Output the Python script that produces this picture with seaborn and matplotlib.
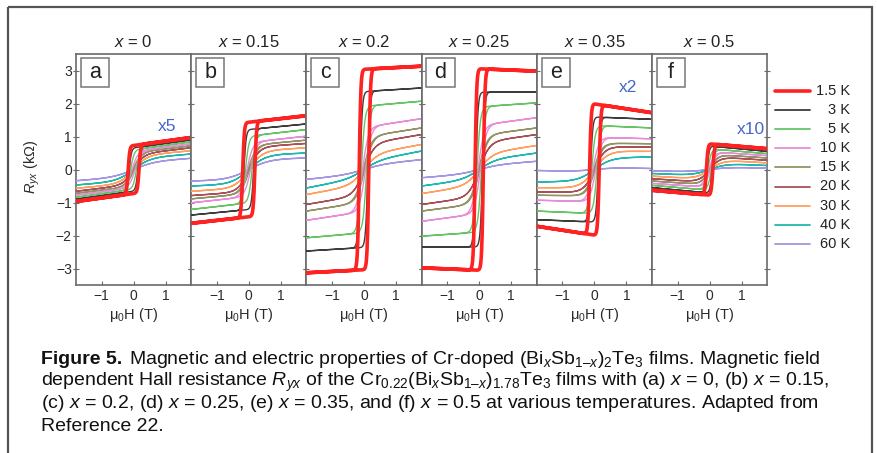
import numpy as np
import pandas as pd
import matplotlib
matplotlib.use("Agg")
import matplotlib.pyplot as plt
from matplotlib import font_manager
from matplotlib.patches import Rectangle
import seaborn as sns

# --- данные ---
temps = ["1.5 K", "3 K", "5 K", "10 K", "15 K", "20 K", "30 K", "40 K", "60 K"]
colors = ["#ff2222", "#3c3c3c", "#66c466", "#e68cd8", "#939366",
          "#a8505a", "#ffa060", "#22b8b0", "#a496e2"]

panel_letters = ["a", "b", "c", "d", "e", "f"]
panel_titles = ["0", "0.15", "0.2", "0.25", "0.35", "0.5"]
scale_notes = ["x5", None, None, None, "x2", "x10"]
note_pos = [(1.05, 1.3), None, None, None, (1.05, 2.5), (1.3, 1.2)]

# R_yx (kOhm) на верхней ветви при 0.6 T и на краю 1.8 T
a_knee = [0.81, 0.74, 0.68, 0.62, 0.57, 0.50, 0.42, 0.32, 0.20]
a_end = [0.97, 0.90, 0.84, 0.78, 0.72, 0.66, 0.57, 0.47, 0.34]
b_knee = [1.50, 1.27, 1.08, 0.88, 0.77, 0.68, 0.53, 0.38, 0.24]
b_end = [1.63, 1.38, 1.21, 1.01, 0.89, 0.79, 0.66, 0.50, 0.35]
c_knee = [3.07, 2.40, 1.97, 1.36, 1.06, 0.83, 0.50, 0.30, 0.15]
c_end = [3.13, 2.47, 2.07, 1.54, 1.26, 1.06, 0.76, 0.56, 0.30]
d_knee = [3.03, 2.35, 1.94, 1.41, 1.09, 0.86, 0.50, 0.30, 0.13]
d_end = [2.98, 2.35, 2.02, 1.57, 1.26, 1.06, 0.73, 0.50, 0.25]
e_knee = [1.90, 1.57, 1.31, 0.96, 0.78, 0.66, 0.50, 0.30, 0.04]
e_end = [1.72, 1.52, 1.26, 0.93, 0.78, 0.68, 0.55, 0.38, 0.03]
f_knee = [0.73, 0.66, 0.58, 0.50, 0.42, 0.34, 0.24, 0.14, 0.05]
f_end = [0.63, 0.55, 0.48, 0.42, 0.35, 0.28, 0.20, 0.12, 0.04]

knees = [a_knee, b_knee, c_knee, d_knee, e_knee, f_knee]
ends = [a_end, b_end, c_end, d_end, e_end, f_end]

# коэрцитивное поле (T) для 1.5 K в каждой панели и доли для других температур
hc_red = [0.17, 0.19, 0.15, 0.13, 0.15, 0.10]
hc_ratio = [1.0, 0.8, 0.55, 0.3, 0.15, 0.0, 0.0, 0.0, 0.0]
# ширина перехода (T)
widths = [0.05, 0.07, 0.11, 0.18, 0.25, 0.32, 0.42, 0.52, 0.65]

caption_lines = [
    "Magnetic and electric properties of Cr-doped (Bi$\\mathregular{_{\\it{x}}}$Sb$\\mathregular{_{1\u2013\\it{x}}}$)$\\mathregular{_2}$Te$\\mathregular{_3}$ films. Magnetic field",
    "dependent Hall resistance $\\it{R}\\mathregular{_{\\it{yx}}}$ of the Cr$\\mathregular{_{0.22}}$(Bi$\\mathregular{_{\\it{x}}}$Sb$\\mathregular{_{1\u2013\\it{x}}}$)$\\mathregular{_{1.78}}$Te$\\mathregular{_3}$ films with (a) $\\it{x}$ = 0, (b) $\\it{x}$ = 0.15,",
    "(c) $\\it{x}$ = 0.2, (d) $\\it{x}$ = 0.25, (e) $\\it{x}$ = 0.35, and (f) $\\it{x}$ = 0.5 at various temperatures. Adapted from",
    "Reference 22.",
]


def branch_frames(knee, end, hc_max):
    """Строим петли гистерезиса по считанным значениям"""
    H = np.linspace(-1.8, 1.8, 901)
    rows = []
    for i in range(len(temps)):
        hc = hc_max * hc_ratio[i]
        w = widths[i]
        t1 = np.tanh((0.6 - hc) / w)
        t2 = np.tanh((1.8 - hc) / w)
        s = (knee[i] * t2 - end[i] * t1) / (0.6 * t2 - 1.8 * t1)
        A = (knee[i] - 0.6 * s) / t1
        up = s * H + A * np.tanh((H - hc) / w)
        down = s * H[::-1] + A * np.tanh((H[::-1] + hc) / w)
        rows.append(pd.DataFrame({"H": np.concatenate([H, H[::-1]]),
                                  "R": np.concatenate([up, down]),
                                  "T": temps[i]}))
    return rows


sns.set_style("ticks")
names = {f.name for f in font_manager.fontManager.ttflist}
chart_font = "Liberation Sans" if "Liberation Sans" in names else "DejaVu Sans"
cap_font = "Liberation Sans Narrow" if "Liberation Sans Narrow" in names else chart_font
plt.rcParams["font.family"] = [chart_font, "DejaVu Sans"]
plt.rcParams["mathtext.fontset"] = "custom"
plt.rcParams["mathtext.rm"] = chart_font
plt.rcParams["mathtext.it"] = chart_font + ":italic"
plt.rcParams["mathtext.bf"] = chart_font + ":bold"

W, Hpx = 878, 453
fig = plt.figure(figsize=(W / 100, Hpx / 100), dpi=100)

ax_left, ax_w = 76, 115.2
ax_top, ax_bot = 54, 285
spine_c = "#6a6a6a"
text_c = "#2a2a2a"

for p in range(6):
    x0 = ax_left + p * ax_w
    ax = fig.add_axes([x0 / W, (Hpx - ax_bot) / Hpx, ax_w / W, (ax_bot - ax_top) / Hpx])
    frames = branch_frames(knees[p], ends[p], hc_red[p])
    for i in reversed(range(len(temps))):
        sns.lineplot(data=frames[i], x="H", y="R", sort=False, estimator=None,
                     color=colors[i], lw=2.6 if i == 0 else 1.0, ax=ax,
                     zorder=5 if i == 0 else 3)
    ax.set_xlim(-1.8, 1.8)
    ax.set_ylim(-3.5, 3.5)
    ax.set_xticks([-1, 0, 1])
    ax.set_xticklabels(["\u22121", "0", "1"])
    ax.set_yticks([-3, -2, -1, 0, 1, 2, 3])
    if p == 0:
        ax.set_yticklabels(["\u22123", "\u22122", "\u22121", "0", "1", "2", "3"])
        ax.set_ylabel("$\\it{R}\\mathregular{_{\\it{yx}}}$ (k\u03a9)", fontsize=10.5, color=text_c)
        ax.yaxis.set_label_coords((42 - x0) / ax_w, 0.51)
    else:
        ax.set_yticklabels([])
        ax.set_ylabel("")
    ax.set_xlabel(r"$\mathregular{\mu_0}$H (T)", fontsize=10.5, color=text_c, labelpad=2)
    ax.tick_params(axis="y", direction="inout", length=4, width=0.8, colors=spine_c,
                   labelcolor=text_c, labelsize=10, right=True, pad=1)
    ax.tick_params(axis="x", direction="in", length=3, width=0.8, colors=spine_c,
                   labelcolor=text_c, labelsize=10, pad=3)
    for sp in ax.spines.values():
        sp.set_visible(True)
        sp.set_color(spine_c)
        sp.set_linewidth(1.2)
    ax.set_title(r"$\it{x}$ = " + panel_titles[p], fontsize=12, color="#222222", pad=5)
    # рамка с буквой панели
    ax.add_patch(Rectangle((0.041, 0.857), 0.246, 0.126, transform=ax.transAxes,
                           fc="white", ec="#777777", lw=1.1, zorder=6))
    ax.text(0.164, 0.918, panel_letters[p], transform=ax.transAxes, fontsize=15.5,
            ha="center", va="center", color="#222222", zorder=7)
    if scale_notes[p]:
        ax.text(note_pos[p][0], note_pos[p][1], scale_notes[p], fontsize=12.5,
                color="#4466cc", ha="center", va="center", zorder=8)

# легенда справа, подписи выровнены по правому краю
lg = fig.add_axes([0, 0, 1, 1])
lg.set_xlim(0, W)
lg.set_ylim(Hpx, 0)
lg.axis("off")
for i, t in enumerate(temps):
    yy = 91 + i * 19.1
    lg.plot([775, 810], [yy, yy], color=colors[i], lw=2.6 if i == 0 else 1.3)
    lg.text(850, yy, t, ha="right", va="center", fontsize=10.5, color="#222222")

# рамка рисунка
lg.add_patch(Rectangle((8, 7), 864, 480, fill=False, ec="#555555", lw=1.6, clip_on=False))

# подпись
cap_size = 14.0
y_lines = [364, 386, 408, 431]
first = lg.text(41, y_lines[0], "Figure 5.", fontsize=cap_size, family=cap_font,
                weight="bold", ha="left", va="baseline", color="#111111")
fig.canvas.draw()
bb = first.get_window_extent()
x_after = bb.x1 + 7
fig.text(x_after / W, 1 - y_lines[0] / Hpx, caption_lines[0], fontsize=cap_size,
         family=cap_font, ha="left", va="baseline", color="#111111")
for k in range(1, 4):
    lg.text(41, y_lines[k], caption_lines[k], fontsize=cap_size, family=cap_font,
            ha="left", va="baseline", color="#111111")

fig.savefig("out.png", dpi=100)
